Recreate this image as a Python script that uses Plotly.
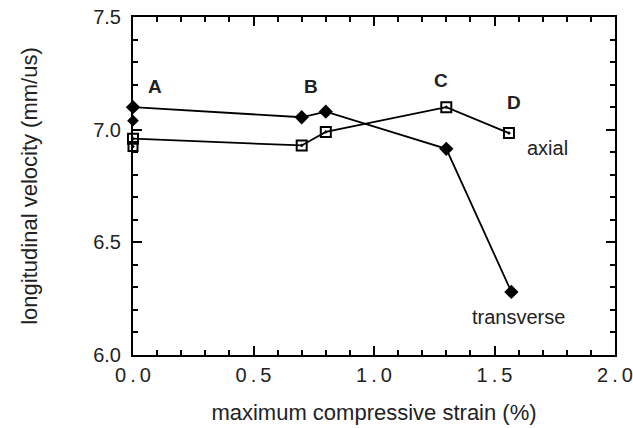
import plotly.graph_objects as go

strain_transverse = [0.0, 0.7, 0.8, 1.3, 1.57]
vel_transverse = [7.10, 7.055, 7.08, 6.915, 6.28]
strain_axial = [0.0, 0.7, 0.8, 1.3, 1.56]
vel_axial = [6.96, 6.93, 6.99, 7.10, 6.985]
extra_transverse_x = [0.0]
extra_transverse_y = [7.04]
extra_axial_x = [0.0]
extra_axial_y = [6.925]

point_labels = ["A", "B", "C", "D"]
point_label_x = [0.09, 0.74, 1.28, 1.58]
point_label_y = [7.19, 7.19, 7.22, 7.12]
series_names = ["transverse", "axial"]
series_label_x = [1.60, 1.72]
series_label_y = [6.17, 6.92]

x_ticks = [0.0, 0.5, 1.0, 1.5, 2.0]
y_ticks = [6.0, 6.5, 7.0, 7.5]

font = "Liberation Sans, Arial, Helvetica, sans-serif"
tc = "#222"

fig = go.Figure()
fig.add_trace(go.Scatter(x=strain_transverse, y=vel_transverse, mode="lines+markers",
                         line=dict(color="black", width=1.8),
                         marker=dict(symbol="diamond", size=11, color="black"),
                         cliponaxis=False, showlegend=False))
fig.add_trace(go.Scatter(x=extra_transverse_x, y=extra_transverse_y, mode="markers",
                         marker=dict(symbol="diamond", size=9, color="black"),
                         cliponaxis=False, showlegend=False))
fig.add_trace(go.Scatter(x=strain_axial, y=vel_axial, mode="lines+markers",
                         line=dict(color="black", width=1.8),
                         marker=dict(symbol="square-open-dot", size=10, color="black",
                                     line=dict(width=2, color="black")),
                         cliponaxis=False, showlegend=False))
fig.add_trace(go.Scatter(x=extra_axial_x, y=extra_axial_y, mode="markers",
                         marker=dict(symbol="square-open-dot", size=9, color="black",
                                     line=dict(width=2, color="black")),
                         cliponaxis=False, showlegend=False))

for t, x, y in zip(point_labels, point_label_x, point_label_y):
    fig.add_annotation(x=x, y=y, text="<b>" + t + "</b>", showarrow=False,
                       font=dict(family=font, size=19, color=tc))
for t, x, y in zip(series_names, series_label_x, series_label_y):
    fig.add_annotation(x=x, y=y, text=t, showarrow=False,
                       font=dict(family=font, size=20, color=tc))

axis_common = dict(showline=True, linecolor="black", linewidth=2, mirror="allticks",
                   ticks="inside", ticklen=9, tickwidth=1.5, tickcolor="black",
                   showgrid=False, zeroline=False, automargin=False,
                   minor=dict(ticks="inside", ticklen=5, tickwidth=1.5, tickcolor="black", dtick=0.1),
                   tickfont=dict(family=font, size=20, color=tc))

fig.update_xaxes(range=[0, 2], tickvals=x_ticks,
                 ticktext=[f"{v:.1f}".replace(".", "\u2009.\u2009") for v in x_ticks],
                 ticklabelstandoff=1,
                 title=dict(text="maximum compressive strain (%)", standoff=20,
                            font=dict(family=font, size=22, color=tc)),
                 **axis_common)
fig.update_yaxes(range=[6, 7.5], tickvals=y_ticks, ticktext=[f"{v:.1f}" for v in y_ticks],
                 ticklabelstandoff=6,
                 title=dict(text="longitudinal velocity (mm/us)", standoff=49,
                            font=dict(family=font, size=22, color=tc)),
                 **axis_common)

fig.update_layout(width=633, height=428, margin=dict(l=133, r=18, t=17, b=73),
                  plot_bgcolor="white", paper_bgcolor="white")

fig.write_html("out.html", config={"displayModeBar": False},
               post_script="document.body.style.margin='0';document.body.style.overflow='hidden';")
